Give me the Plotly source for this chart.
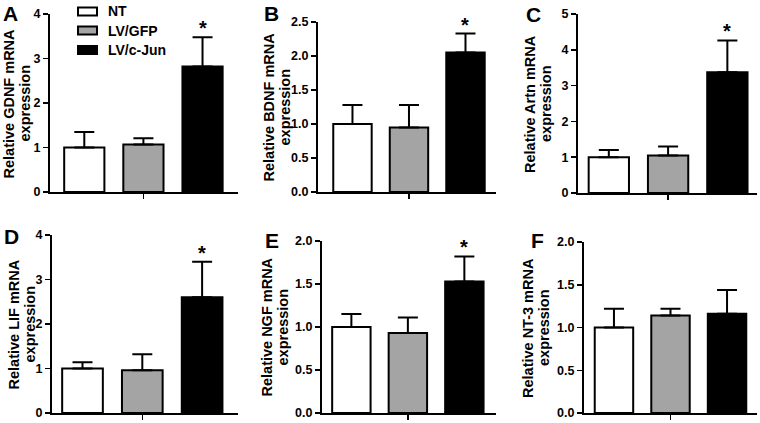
import plotly.graph_objects as go

# ---------------- data ----------------
groups = ["NT", "LV/GFP", "LV/c-Jun"]
group_colors = ["#ffffff", "#a4a4a4", "#000000"]

panel_letters = ["A", "B", "C", "D", "E", "F"]
genes = ["GDNF", "BDNF", "Artn", "LIF", "NGF", "NT-3"]

gdnf_mean = [1.00, 1.07, 2.82]
gdnf_sem = [0.35, 0.14, 0.66]
bdnf_mean = [1.00, 0.95, 2.05]
bdnf_sem = [0.28, 0.33, 0.28]
artn_mean = [1.00, 1.05, 3.37]
artn_sem = [0.20, 0.25, 0.89]
lif_mean = [1.00, 0.96, 2.60]
lif_sem = [0.14, 0.36, 0.80]
ngf_mean = [1.00, 0.93, 1.53]
ngf_sem = [0.15, 0.18, 0.29]
nt3_mean = [1.00, 1.14, 1.16]
nt3_sem = [0.22, 0.08, 0.28]

means = [gdnf_mean, bdnf_mean, artn_mean, lif_mean, ngf_mean, nt3_mean]
sems = [gdnf_sem, bdnf_sem, artn_sem, lif_sem, ngf_sem, nt3_sem]
significant = [True, True, True, True, True, False]

y_max = [4, 2.5, 5, 4, 2.0, 2.0]
y_step = [1, 0.5, 1, 1, 0.5, 0.5]
y_fmt = ["d", ".1f", "d", "d", ".1f", ".1f"]

# ---------------- layout geometry (pixels) ----------------
W, H = 760, 423
# (y-axis line x, x-axis end x, x-axis line y, top tick y, x range)
geom = [
    (49, 238, 193, 14, [-0.58, 2.6]),
    (317, 496, 193, 22, [-0.61, 2.54]),
    (577, 757, 194, 14, [-0.52, 2.5]),
    (51, 238, 414, 235, [-0.51, 2.6]),
    (321, 496, 414, 241, [-0.52, 2.56]),
    (583, 757, 414, 242, [-0.53, 2.53]),
]
title_x = [(9, 25), (269, 285), (530, 546), (13, 29), (266, 282), (528, 544)]
letter_pos = [(10, 13), (271, 13), (533, 14), (11, 236), (272, 240), (537, 240)]

FONT = "Liberation Sans, Arial, sans-serif"


def px_x(v):
    return v / W


def px_y(v):
    return 1 - v / H


fig = go.Figure()
annotations = []
shapes = []
layout_axes = {}

for p in range(6):
    n = "" if p == 0 else str(p + 1)
    xl, xr, yb, yt, xr_range = geom[p]
    layout_axes["xaxis" + n] = dict(
        domain=[px_x(xl + 1), px_x(xr)],
        range=xr_range,
        anchor="y" + n,
        automargin=False,
        showgrid=False,
        zeroline=False,
        showline=True,
        linecolor="black",
        linewidth=2,
        tickmode="array",
        tickvals=[1],
        ticktext=[""],
        ticks="outside",
        ticklen=5,
        tickwidth=1.5,
        tickcolor="black",
        fixedrange=True,
    )
    layout_axes["yaxis" + n] = dict(
        domain=[px_y(yb - 1), px_y(yt)],
        range=[0, y_max[p]],
        anchor="x" + n,
        automargin=False,
        showgrid=False,
        zeroline=False,
        showline=True,
        linecolor="black",
        linewidth=2,
        dtick=y_step[p],
        tick0=0,
        tickformat=y_fmt[p],
        ticks="outside",
        ticklen=5,
        tickwidth=1.5,
        tickcolor="black",
        tickfont=dict(size=12.5, family=FONT, color="black", weight="bold"),
        fixedrange=True,
    )
    for i, g in enumerate(groups):
        fig.add_trace(
            go.Bar(
                x=[i],
                y=[means[p][i]],
                width=0.68,
                name=g,
                showlegend=False,
                hoverinfo="skip",
                marker=dict(color=group_colors[i], line=dict(color="black", width=2)),
                error_y=dict(
                    type="data",
                    symmetric=False,
                    array=[sems[p][i]],
                    arrayminus=[0],
                    color="black",
                    thickness=2,
                    width=10,
                ),
                xaxis="x" + n,
                yaxis="y" + n,
            )
        )
    if significant[p]:
        annotations.append(
            dict(
                x=2,
                y=means[p][2] + sems[p][2],
                xref="x" + n,
                yref="y" + n,
                text="*",
                showarrow=False,
                yanchor="bottom",
                yshift=-4,
                font=dict(size=20, family=FONT, color="black", weight="bold"),
            )
        )
    yc = px_y((yb + yt) / 2)
    annotations.append(
        dict(
            x=px_x(title_x[p][0]), y=yc, xref="paper", yref="paper",
            text=f"Relative {genes[p]} mRNA", textangle=-90, showarrow=False,
            xanchor="center", yanchor="middle",
            font=dict(size=14.5, family=FONT, color="black", weight="bold"),
        )
    )
    annotations.append(
        dict(
            x=px_x(title_x[p][1]), y=yc, xref="paper", yref="paper",
            text="expression", textangle=-90, showarrow=False,
            xanchor="center", yanchor="middle",
            font=dict(size=14.5, family=FONT, color="black", weight="bold"),
        )
    )
    lx, ly = letter_pos[p]
    annotations.append(
        dict(
            x=px_x(lx), y=px_y(ly), xref="paper", yref="paper",
            text=panel_letters[p], showarrow=False,
            xanchor="center", yanchor="middle",
            font=dict(size=21, family=FONT, color="black", weight="bold"),
        )
    )

# manual legend (keys for the three groups)
legend_rows = [11.5, 30.5, 50]
for i, g in enumerate(groups):
    cy = legend_rows[i]
    shapes.append(
        dict(
            type="rect", xref="paper", yref="paper",
            x0=px_x(78), x1=px_x(97), y0=px_y(cy + 4), y1=px_y(cy - 4),
            fillcolor=group_colors[i], line=dict(color="black", width=2),
        )
    )
    annotations.append(
        dict(
            x=px_x(106), y=px_y(cy), xref="paper", yref="paper",
            text=g, showarrow=False, xanchor="left", yanchor="middle",
            font=dict(size=14, family=FONT, color="black", weight="bold"),
        )
    )

fig.update_layout(
    width=W,
    height=H,
    margin=dict(l=0, r=0, t=0, b=0, autoexpand=False),
    paper_bgcolor="white",
    plot_bgcolor="white",
    barmode="overlay",
    showlegend=False,
    font=dict(family=FONT, color="black"),
    annotations=annotations,
    shapes=shapes,
    **layout_axes,
)

fig.write_html(
    "out.html",
    config={"displayModeBar": False, "staticPlot": True},
    post_script=(
        "document.body.style.margin='0';"
        "document.body.style.overflow='hidden';"
    ),
)
